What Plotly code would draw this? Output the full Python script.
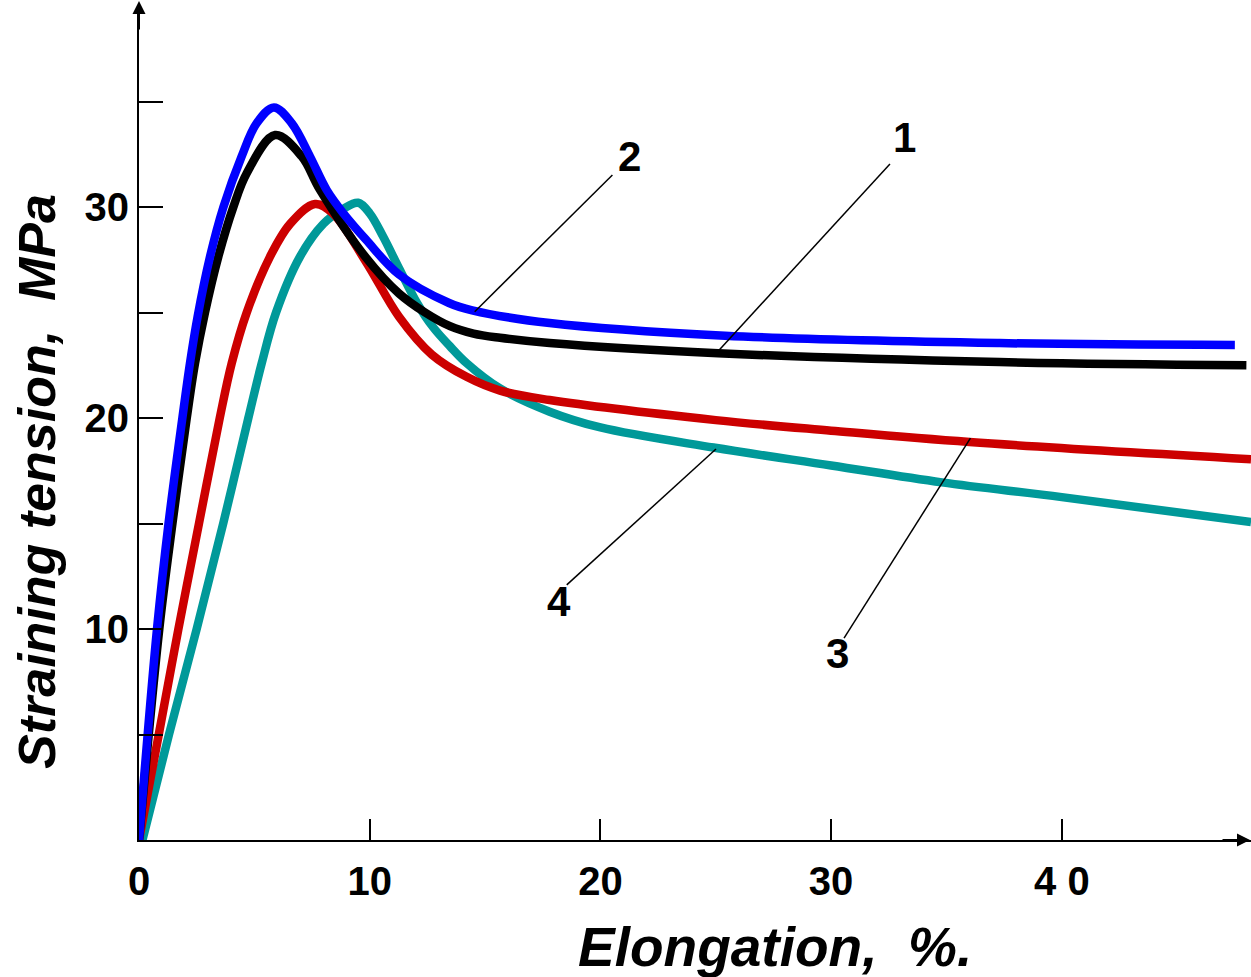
import plotly.graph_objects as go

# ---------------- data ----------------
# Curve 1 (black)
elong_1 = [0, 0.88, 1.45, 2.07, 2.43, 2.86, 3.44, 4.09, 4.67, 5.9, 7.05, 7.85, 9.84, 11.27, 12.4, 13.48, 14.5, 15.65, 17.8, 25.1, 37.3, 48.0]
stress_1 = [0, 10, 15, 20, 22.6, 25.0, 27.65, 30.0, 31.6, 33.41, 32.4, 30.8, 27.6, 25.9, 25.0, 24.35, 24.0, 23.8, 23.55, 23.07, 22.65, 22.5]

# Curve 2 (blue)
elong_2 = [0, 0.78, 1.28, 1.88, 2.21, 2.54, 3.08, 3.66, 4.45, 5.1, 5.85, 6.62, 7.41, 8.14, 8.86, 9.84, 11.27, 13.44, 14.44, 17.8, 25.4, 37.3, 47.5]
stress_2 = [0, 10, 15, 20, 22.6, 24.8, 27.65, 30.0, 32.4, 33.97, 34.72, 33.97, 32.4, 30.8, 29.7, 28.45, 26.8, 25.45, 25.1, 24.5, 23.9, 23.55, 23.46]

# Curve 3 (red)
elong_3 = [0, 0.84, 1.7, 2.6, 3.5, 4.02, 4.67, 5.68, 6.55, 7.63, 8.4, 9.84, 11.27, 12.7, 14.2, 15.65, 17.8, 25.0, 30.0, 36.0, 48.2]
stress_3 = [0, 4.9, 9.95, 15.0, 20.0, 22.6, 25.0, 27.65, 29.2, 30.14, 29.7, 27.4, 24.8, 23.0, 21.95, 21.3, 20.85, 19.9, 19.4, 18.86, 18.05]

# Curve 4 (teal)
elong_4 = [0.15, 1.3, 2.5, 3.65, 4.74, 5.32, 5.94, 6.98, 7.99, 8.84, 9.5, 10.0, 10.58, 11.27, 12.05, 12.75, 13.48, 14.2, 15.65, 17.8, 20.0, 24.9, 30.0, 34.8, 40.0, 48.2]
stress_4 = [0, 5, 10, 15, 20, 22.6, 25.0, 27.65, 29.2, 29.9, 30.2, 29.7, 28.6, 27.1, 25.45, 24.3, 23.4, 22.6, 21.4, 20.3, 19.55, 18.6, 17.75, 16.95, 16.25, 15.07]

curve_names = ["1", "2", "3", "4"]
curve_colors = ["#000000", "#0000FF", "#CC0000", "#009999"]

# Curve number labels and their leader lines (data coordinates)
label_text = ["1", "2", "3", "4"]
label_x = [33.2, 21.24, 30.26, 18.2]
label_y = [33.3, 32.37, 8.86, 11.28]
leader_x = [[25.08, 32.55], [14.55, 20.52], [36.04, 30.56], [25.01, 18.54]]
leader_y = [[23.14, 32.04], [25.04, 31.52], [19.05, 9.57], [18.53, 12.09]]

# Axis ticks
x_tickvals = [0, 10, 20, 30, 40]
x_ticktext = ["0", "10", "20", "30", "4 0"]
y_tickvals = [10, 20, 30]
y_ticktext = ["10", "20", "30"]

x_title = "Elongation,\u00a0 %."
y_title = "Straining tension,\u00a0 MPa"

# ---------------- figure ----------------
FONT = "Liberation Sans, Arial, sans-serif"
fig = go.Figure()

series = [(elong_1, stress_1), (elong_2, stress_2), (elong_3, stress_3), (elong_4, stress_4)]
for i in [3, 2, 0, 1]:  # teal, red, black, blue (blue on top)
    xs, ys = series[i]
    fig.add_trace(go.Scatter(
        x=xs, y=ys, mode="lines", name=curve_names[i],
        line=dict(color=curve_colors[i], width=8.5, shape="spline", smoothing=1.0),
        hoverinfo="skip", showlegend=False,
    ))

for lx, ly in zip(leader_x, leader_y):
    fig.add_trace(go.Scatter(
        x=lx, y=ly, mode="lines",
        line=dict(color="black", width=1.5),
        hoverinfo="skip", showlegend=False,
    ))

annotations = []
for t, x, y in zip(label_text, label_x, label_y):
    annotations.append(dict(
        x=x, y=y, xref="x", yref="y", text=t, showarrow=False,
        font=dict(family=FONT, size=42, color="black", weight="bold"),
        xanchor="center", yanchor="middle",
    ))

# axis titles
annotations.append(dict(
    x=(775 - 139) / 1112, y=(840 - 947) / 834, xref="paper", yref="paper",
    text=x_title, showarrow=False,
    font=dict(family=FONT, size=55, color="black", weight="bold", style="italic"),
    xanchor="center", yanchor="middle",
))
annotations.append(dict(
    x=(37 - 139) / 1112, y=(840 - 482) / 834, xref="paper", yref="paper",
    text=y_title, showarrow=False, textangle=-90,
    font=dict(family=FONT, size=52, color="black", weight="bold", style="italic"),
    xanchor="center", yanchor="middle",
))

# axis arrows
annotations.append(dict(
    x=0, y=839 / 834, xref="x", yref="paper", text="", showarrow=True,
    ax=0, ay=30, arrowhead=2, arrowsize=1.3, arrowwidth=2, arrowcolor="black",
))
annotations.append(dict(
    x=1.0, y=0, xref="paper", yref="y", text="", showarrow=True,
    ax=-30, ay=0, arrowhead=2, arrowsize=1.3, arrowwidth=2, arrowcolor="black",
))

fig.update_layout(
    width=1251, height=977,
    margin=dict(l=139, r=0, t=6, b=137, pad=0),
    paper_bgcolor="white", plot_bgcolor="white",
    showlegend=False,
    annotations=annotations,
)

fig.update_xaxes(
    range=[0, 48.2], showgrid=False, zeroline=False,
    showline=True, linecolor="black", linewidth=2,
    tickmode="array", tickvals=x_tickvals, ticktext=x_ticktext,
    ticks="inside", ticklen=21, tickwidth=1.5, tickcolor="black",
    tickfont=dict(family=FONT, size=40, color="black", weight="bold"),
    ticklabelstandoff=5,
)
fig.update_yaxes(
    range=[0, 834 / 21.1], showgrid=False, zeroline=False,
    showline=True, linecolor="black", linewidth=2,
    tickmode="array", tickvals=y_tickvals, ticktext=y_ticktext,
    ticks="inside", ticklen=24, tickwidth=2, tickcolor="black",
    tickfont=dict(family=FONT, size=40, color="black", weight="bold"),
    minor=dict(ticks="inside", ticklen=24, tickwidth=2, tickcolor="black",
               tickmode="linear", tick0=0, dtick=5, showgrid=False),
)

fig.write_html(
    "out.html",
    config={"displayModeBar": False},
    post_script="document.body.style.margin='0';document.body.style.overflow='hidden';",
)
